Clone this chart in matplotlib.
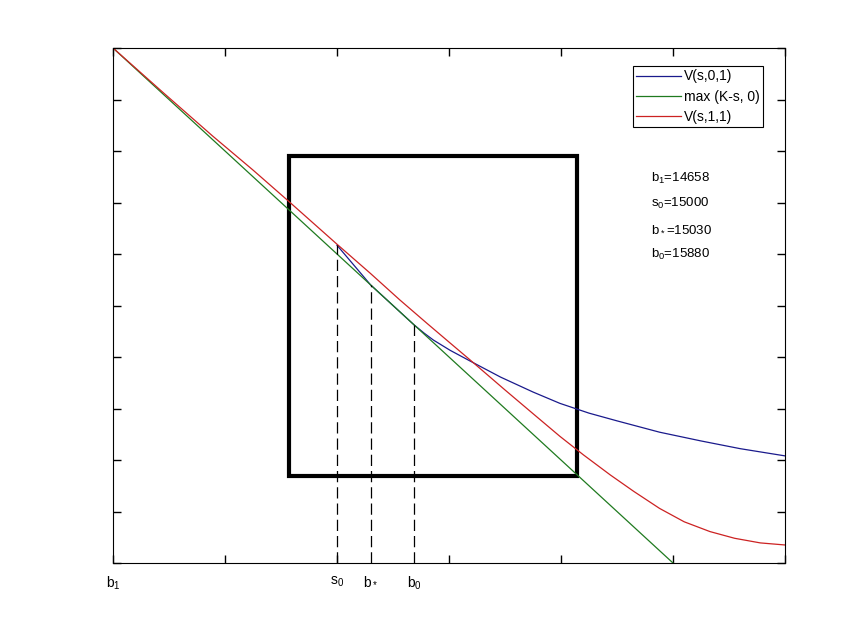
import matplotlib
matplotlib.use("Agg")
import matplotlib.pyplot as plt
from matplotlib.patches import Rectangle

plt.rcParams['font.family'] = ['Liberation Sans', 'DejaVu Sans']
plt.rcParams['mathtext.default'] = 'regular'

# Data (x in units of tick spacing, y in units of tick spacing)
payoff_x = [0.0, 5.0]
payoff_y = [10.0, 0.0]

red_x = [0.0, 0.45, 0.89, 1.25, 1.56, 2.0, 2.3, 2.56, 2.8, 3.0, 3.19, 3.5,
         3.75, 3.99, 4.2, 4.44, 4.65, 4.88, 5.1, 5.33, 5.55, 5.78, 6.0]
red_y = [10.0, 9.13, 8.29, 7.63, 7.04, 6.19, 5.62, 5.11, 4.66, 4.29, 3.94, 3.36,
         2.90, 2.46, 2.10, 1.71, 1.39, 1.06, 0.80, 0.61, 0.48, 0.39, 0.35]

blue_x = [2.0, 2.30, 2.69, 2.78, 2.86, 3.01, 3.19, 3.46, 3.75, 3.99, 4.25,
          4.5, 4.88, 5.25, 5.6, 6.0]
blue_y = [6.17, 5.40, 4.62, 4.46, 4.33, 4.13, 3.92, 3.61, 3.32, 3.10, 2.91,
          2.76, 2.54, 2.37, 2.22, 2.08]

marker_x = [2.0, 2.30, 2.69]
marker_top = [6.17, 5.40, 4.62]
tick_labels = ['b$_1$', 's$_0$', 'b$_*$', 'b$_0$']
tick_label_x = [0.0, 2.0, 2.30, 2.69]

annot = ['b$_1$=14658', 's$_0$=15000', 'b$_*$=15030', 'b$_0$=15880']
box = (1.57, 1.69, 4.14, 7.90)  # x0, y0, x1, y1

fig = plt.figure(figsize=(8.64, 6.36), dpi=100)
ax = fig.add_axes([113/864, 1-563/636, 672/864, 515/636])

ax.plot(blue_x, blue_y, color='#1a1a8c', lw=0.9, label='V(s,0,1)')
ax.plot(payoff_x, payoff_y, color='#1f7a1f', lw=0.9, label='max (K-s, 0)')
ax.plot(red_x, red_y, color='#cc2222', lw=0.9, label='V(s,1,1)')

for xm, yt in zip(marker_x, marker_top):
    ax.plot([xm, xm], [0, yt], color='black', lw=0.9, dashes=(9, 4))

ax.add_patch(Rectangle((box[0], box[1]), box[2]-box[0], box[3]-box[1],
                       fill=False, edgecolor='black', lw=3))

ax.set_xlim(0, 6)
ax.set_ylim(0, 10)
ax.set_xticks(range(0, 7))
ax.set_xticklabels([])
ax.set_yticks(range(0, 11))
ax.set_yticklabels([])
ax.tick_params(direction='in', length=6, top=True, right=True, width=1)

for xl, lab in zip(tick_label_x, tick_labels):
    ax.text(xl, -0.22, lab, ha='center', va='top', fontsize=10)

for i, t in enumerate(annot):
    ax.text(4.80, 7.47 - i*0.49, t, ha='left', va='center', fontsize=9.5)

leg = ax.legend(loc='upper right', bbox_to_anchor=(0.967, 0.965), fontsize=10,
                fancybox=False, edgecolor='black', framealpha=1,
                handlelength=3.2, borderpad=0.25, labelspacing=0.45,
                handletextpad=0.2, borderaxespad=0)
leg.get_frame().set_linewidth(0.8)

fig.savefig('out.png', dpi=100)
